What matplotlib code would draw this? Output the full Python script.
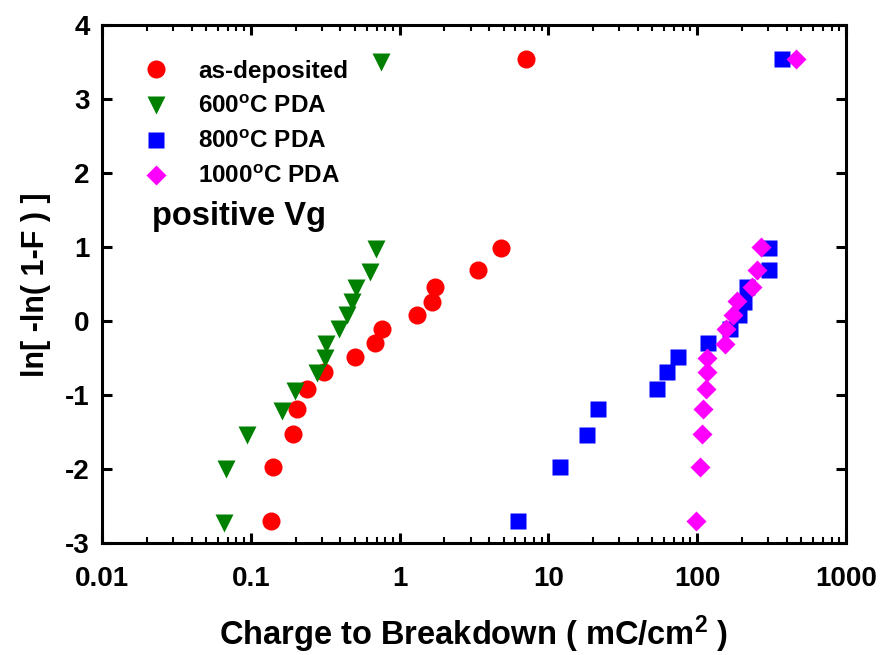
import matplotlib
matplotlib.use("Agg")
import matplotlib.pyplot as plt
from matplotlib.ticker import LogLocator, NullFormatter, FixedLocator, FixedFormatter

plt.rcParams['font.family'] = ['Liberation Sans', 'DejaVu Sans']
plt.rcParams['font.weight'] = 'bold'
plt.rcParams['mathtext.fontset'] = 'custom'
plt.rcParams['mathtext.rm'] = 'Liberation Sans:bold'
plt.rcParams['mathtext.bf'] = 'Liberation Sans:bold'
plt.rcParams['mathtext.default'] = 'bf'

# Data (Weibull plot)
asdep_x = [7.12, 4.82, 3.35, 1.74, 1.65, 1.30, 0.76, 0.68, 0.50, 0.31, 0.237, 0.205, 0.192, 0.140, 0.137]
asdep_y = [3.54, 0.99, 0.69, 0.465, 0.26, 0.08, -0.10, -0.29, -0.48, -0.68, -0.92, -1.19, -1.52, -1.97, -2.70]

pda600_x = [0.745, 0.698, 0.629, 0.507, 0.479, 0.446, 0.392, 0.318, 0.314, 0.280, 0.198, 0.161, 0.0944, 0.0676, 0.0659]
pda600_y = [3.51, 0.98, 0.67, 0.446, 0.26, 0.08, -0.11, -0.30, -0.49, -0.70, -0.94, -1.21, -1.54, -1.99, -2.72]

pda800_x = [374, 304, 304, 216, 205, 192, 165, 119, 74.5, 62.2, 53.9, 21.7, 18.2, 11.9, 6.2]
pda800_y = [3.54, 0.99, 0.69, 0.465, 0.26, 0.08, -0.10, -0.29, -0.48, -0.69, -0.92, -1.19, -1.53, -1.97, -2.70]

pda1000_x = [464, 270, 252, 235, 184, 174, 157, 153, 117, 116, 114, 110, 107, 105, 98]
pda1000_y = [3.54, 1.00, 0.69, 0.46, 0.28, 0.08, -0.11, -0.30, -0.49, -0.69, -0.92, -1.19, -1.52, -1.97, -2.70]

labels = ['as-deposited', r'600$^{o}$C PDA', r'800$^{o}$C PDA', r'1000$^{o}$C PDA']

y_ticks = [-3, -2, -1, 0, 1, 2, 3, 4]
x_ticks = [0.01, 0.1, 1, 10, 100, 1000]
x_ticklabels = ['0.01', '0.1', '1', '10', '100', '1000']

fig = plt.figure(figsize=(8.81, 6.55), dpi=100)
ax = fig.add_axes([0.1158, 0.1705, 0.8445, 0.7909])

ax.plot(asdep_x, asdep_y, 'o', color='#ff0000', ms=13, mec='none', label=labels[0], zorder=3)
ax.plot(pda600_x, pda600_y, 'v', color='#008000', ms=13.5, mec='none', label=labels[1], zorder=3)
ax.plot(pda800_x, pda800_y, 's', color='#0000ff', ms=11.5, mec='none', label=labels[2], zorder=3)
ax.plot(pda1000_x, pda1000_y, 'D', color='#ff00ff', ms=10, mec='none', label=labels[3], zorder=4)

ax.set_xscale('log')
ax.set_xlim(0.01, 1000)
ax.set_ylim(-3, 4)
ax.xaxis.set_major_locator(FixedLocator(x_ticks))
ax.xaxis.set_major_formatter(FixedFormatter(x_ticklabels))
ax.xaxis.set_minor_locator(LogLocator(base=10, subs=range(2, 10), numticks=20))
ax.xaxis.set_minor_formatter(NullFormatter())
ax.set_yticks(y_ticks)
ax.set_yticklabels([str(v) for v in y_ticks])

for s in ax.spines.values():
    s.set_linewidth(2.2)
ax.tick_params(which='major', direction='in', length=7, width=2.2, top=True, right=True,
               labelsize=20)
ax.tick_params(axis='x', which='major', pad=16)
ax.tick_params(axis='y', which='major', pad=9)
ax.tick_params(which='minor', direction='in', length=4, width=1.5, top=True, right=True)
for lab in ax.get_xticklabels() + ax.get_yticklabels():
    lab.set_fontweight('bold')

ax.set_xlabel(r'Charge to Breakdown ( mC/cm$^{2}$ )', fontsize=23.5, fontweight='bold', labelpad=16)
ax.set_ylabel('ln[ -ln( 1-F ) ]', fontsize=22, fontweight='bold', labelpad=10)

leg = ax.legend(loc='upper left', bbox_to_anchor=(0.034, 0.952), frameon=False,
                prop={'size': 17.5, 'weight': 'bold'}, handletextpad=0.9,
                labelspacing=0.5, borderaxespad=0.0, numpoints=1, markerscale=1.0,
                handlelength=1.6)

ax.text(0.067, 0.6305, 'positive Vg', transform=ax.transAxes, fontsize=23.5, fontweight='bold',
        ha='left', va='center')

fig.savefig('out.png', dpi=100)
